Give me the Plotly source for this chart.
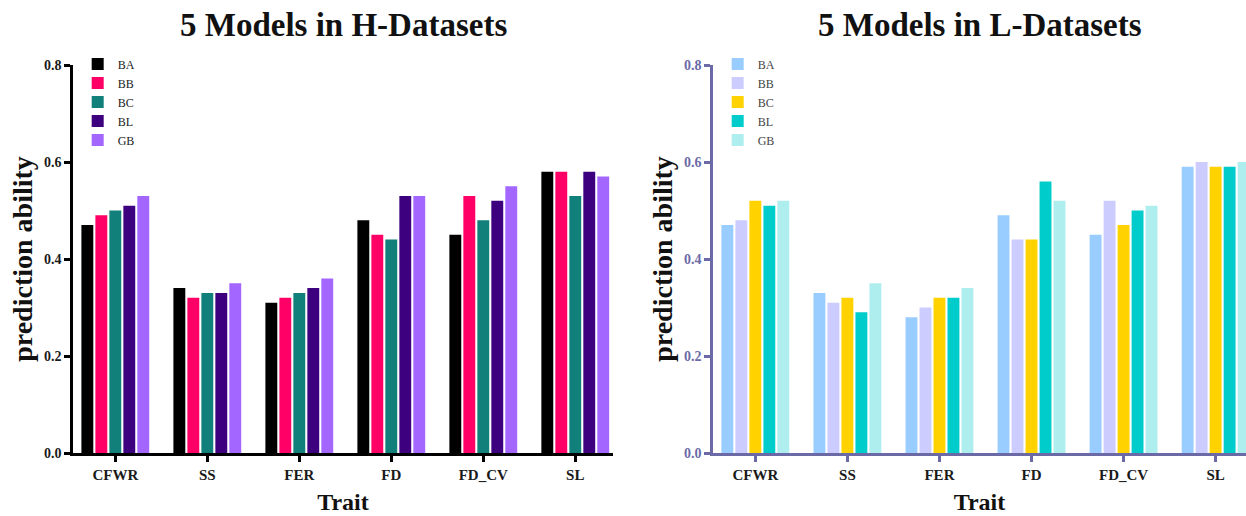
import plotly.graph_objects as go

traits = ["CFWR", "SS", "FER", "FD", "FD_CV", "SL"]
models = ["BA", "BB", "BC", "BL", "GB"]

h_BA = [0.47, 0.34, 0.31, 0.48, 0.45, 0.58]
h_BB = [0.49, 0.32, 0.32, 0.45, 0.53, 0.58]
h_BC = [0.50, 0.33, 0.33, 0.44, 0.48, 0.53]
h_BL = [0.51, 0.33, 0.34, 0.53, 0.52, 0.58]
h_GB = [0.53, 0.35, 0.36, 0.53, 0.55, 0.57]

l_BA = [0.47, 0.33, 0.28, 0.49, 0.45, 0.59]
l_BB = [0.48, 0.31, 0.30, 0.44, 0.52, 0.60]
l_BC = [0.52, 0.32, 0.32, 0.44, 0.47, 0.59]
l_BL = [0.51, 0.29, 0.32, 0.56, 0.50, 0.59]
l_GB = [0.52, 0.35, 0.34, 0.52, 0.51, 0.60]

h_vals = [h_BA, h_BB, h_BC, h_BL, h_GB]
l_vals = [l_BA, l_BB, l_BC, l_BL, l_GB]
h_colors = ["#000000", "#ff0066", "#117f7a", "#3d007f", "#a366ff"]
l_colors = ["#99ccff", "#ccccff", "#ffd200", "#00cccc", "#aeeeee"]

FONT = "Liberation Serif"
RCOL = "#6b6aa6"

fig = go.Figure()
for m, v, c in zip(models, h_vals, h_colors):
    fig.add_trace(go.Bar(x=traits, y=v, name=m, marker=dict(color=c, line=dict(width=0)),
                         xaxis="x", yaxis="y", legend="legend", offsetgroup=m))
for m, v, c in zip(models, l_vals, l_colors):
    fig.add_trace(go.Bar(x=traits, y=v, name=m, marker=dict(color=c, line=dict(width=0)),
                         xaxis="x2", yaxis="y2", legend="legend2", offsetgroup=m))

W, H = 1246, 516
ml, mr, mt, mb = 73, 0, 65, 63
pw = W - ml - mr
d1 = [0, 540 / pw]
d2 = [640 / pw, 1]

def xax(dom, col, anchor, rng):
    return dict(domain=dom, anchor=anchor, type="category", range=rng,
                showline=True, linecolor=col, linewidth=2.5, ticks="outside",
                tickcolor=col, tickwidth=2.5, ticklen=6,
                tickfont=dict(family=FONT, size=15, color="#1a1a1a", weight="bold"),
                title=dict(text="<b>Trait</b>", font=dict(family=FONT, size=24, color="#111111"), standoff=12),
                showgrid=False, zeroline=False)

def yax(col, anchor, tcol):
    return dict(anchor=anchor, range=[0, 0.8], tickvals=[0, 0.2, 0.4, 0.6, 0.8],
                ticktext=["0.0", "0.2", "0.4", "0.6", "0.8"],
                showline=True, linecolor=col, linewidth=2.5, ticks="outside",
                tickcolor=col, tickwidth=2.5, ticklen=6,
                tickfont=dict(family=FONT, size=14, color=tcol, weight="bold"),
                title=dict(text="<b>prediction ability</b>", font=dict(family=FONT, size=28, color="#111111"), standoff=4),
                showgrid=False, zeroline=False)

fig.update_layout(
    width=W, height=H,
    margin=dict(l=ml, r=mr, t=mt, b=mb),
    plot_bgcolor="white", paper_bgcolor="white",
    barmode="group", bargap=0.24, bargroupgap=0.15,
    xaxis=xax(d1, "#000000", "y", [-0.46, 5.41]),
    yaxis=yax("#000000", "x", "#1a1a1a"),
    xaxis2=xax(d2, RCOL, "y2", [-0.46, 5.33]),
    yaxis2=yax(RCOL, "x2", RCOL),
    legend=dict(x=0.004, y=1.04, xanchor="left", yanchor="top", bgcolor="rgba(0,0,0,0)",
                font=dict(family=FONT, size=12, color="#222222"), tracegroupgap=0),
    legend2=dict(x=d2[0] + 0.004, y=1.04, xanchor="left", yanchor="top", bgcolor="rgba(0,0,0,0)",
                 font=dict(family=FONT, size=12, color="#444444"), tracegroupgap=0),
    annotations=[
        dict(text="<b>5 Models in H-Datasets</b>", x=(d1[0] + d1[1]) / 2, y=(H - mb - 25) / (H - mt - mb),
             xref="paper", yref="paper", xanchor="center", yanchor="middle", showarrow=False,
             font=dict(family=FONT, size=33, color="#111111")),
        dict(text="<b>5 Models in L-Datasets</b>", x=(d2[0] + d2[1]) / 2, y=(H - mb - 25) / (H - mt - mb),
             xref="paper", yref="paper", xanchor="center", yanchor="middle", showarrow=False,
             font=dict(family=FONT, size=33, color="#111111")),
    ],
)

fig.write_html("out.html", config={"displayModeBar": False},
               post_script="document.body.style.margin='0';")
